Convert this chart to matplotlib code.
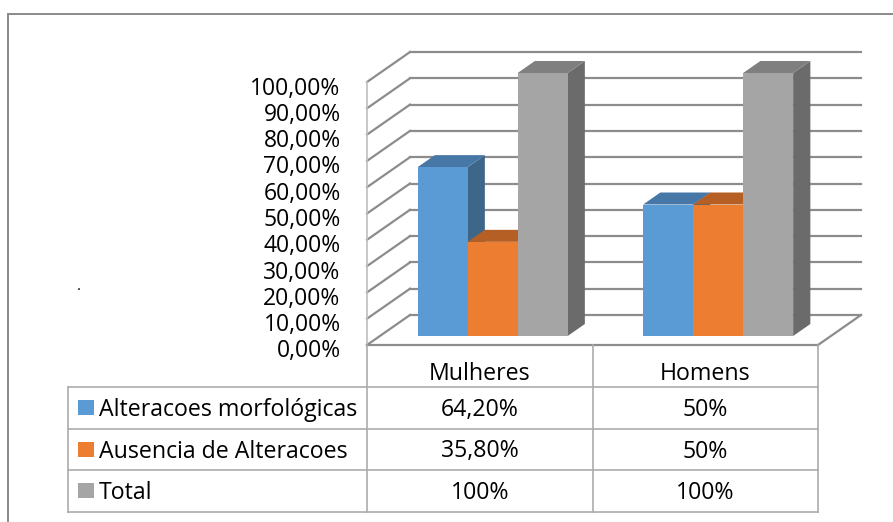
import numpy as np
import matplotlib
matplotlib.use("Agg")
import matplotlib.pyplot as plt
from matplotlib.patches import Polygon, Rectangle
from matplotlib.lines import Line2D
from matplotlib.transforms import ScaledTranslation

plt.rcParams['font.family'] = ['Open Sans', 'DejaVu Sans']

# ---- data ----
categories = ["Mulheres", "Homens"]
series_names = ["Alteracoes morfológicas", "Ausencia de Alteracoes", "Total"]
alteracoes = [0.642, 0.50]
ausencia = [0.358, 0.50]
total = [1.00, 1.00]
table_text = [["64,20%", "50%"], ["35,80%", "50%"], ["100%", "100%"]]
yticks = [0.0, 0.1, 0.2, 0.3, 0.4, 0.5, 0.6, 0.7, 0.8, 0.9, 1.0]

series = [alteracoes, ausencia, total]
front_col = ["#5B9BD5", "#ED7D31", "#A5A5A5"]
top_col = ["#4777A6", "#B65F24", "#7F7F7F"]
side_col = ["#3D6689", "#9A4F1D", "#6B6B6B"]

W, H = 893, 522
fig = plt.figure(figsize=(W / 100, H / 100), dpi=100)

def fx(x):
    return x / W

def fy(y):
    return 1 - y / H

# front plane axes (floor front edge 345 px, 100% at 82 px)
L, R, T, B = 367, 818, 82, 345
ax = fig.add_axes([fx(L), fy(B), (R - L) / W, (B - T) / H])
ax.set_xlim(-0.5, 1.5)
ax.set_ylim(0, 1)
for s in ax.spines.values():
    s.set_visible(False)
ax.set_xticks([])
ax.set_yticks(yticks)
ax.set_yticklabels([("%.2f%%" % (v * 100)).replace(".", ",") for v in yticks],
                   fontsize=16.5, color="#000000")
ax.tick_params(axis='y', length=0, pad=19)
ax.patch.set_alpha(0)
shift = ScaledTranslation(0, -3.5 / 100, fig.dpi_scale_trans)
for lab in ax.get_yticklabels():
    lab.set_transform(lab.get_transform() + shift)

# depth offset in data units
DXD = 43 / (R - L) * 2.0
DYD = 30 / (B - T) * 1.0

def P(x, y, d):
    return (x + DXD * d, y + DYD * d)

grid_c = "#8C8C8C"
glw = 1.6
x0, x1 = -0.5, 1.5
# back wall + left wall gridlines
for v in yticks:
    a = P(x0, v, 1); b = P(x1, v, 1)
    ax.add_line(Line2D([a[0], b[0]], [a[1], b[1]], color=grid_c, lw=glw, clip_on=False, zorder=1))
    a = P(x0, v, 0); b = P(x0, v, 1)
    ax.add_line(Line2D([a[0], b[0]], [a[1], b[1]], color=grid_c, lw=glw, clip_on=False, zorder=1))
# front-left axis edge
ax.add_line(Line2D([x0, x0], [0, 1], color="#BFBFBF", lw=1.2, clip_on=False, zorder=1))
# floor edges
a = P(x1, 0, 1); b = P(x1, 0, 0)
ax.add_line(Line2D([a[0], b[0]], [a[1], b[1]], color=grid_c, lw=glw, clip_on=False, zorder=1))
ax.add_line(Line2D([x0, x1], [0, 0], color=grid_c, lw=glw, clip_on=False, zorder=1))

# bars
bw = 50 / (R - L) * 2.0
d0, d1 = 0.3, 0.7
xc = np.arange(len(categories))
z = 3
for ci in range(len(categories)):
    for si in range(len(series)):
        v = series[si][ci]
        xl = xc[ci] + (si - 1) * bw - bw / 2
        xr = xl + bw
        side = [P(xr, 0, d0), P(xr, 0, d1), P(xr, v, d1), P(xr, v, d0)]
        top = [P(xl, v, d0), P(xr, v, d0), P(xr, v, d1), P(xl, v, d1)]
        front = [P(xl, 0, d0), P(xr, 0, d0), P(xr, v, d0), P(xl, v, d0)]
        ax.add_patch(Polygon(side, closed=True, facecolor=side_col[si], edgecolor='none', clip_on=False, zorder=z)); z += 1
        ax.add_patch(Polygon(top, closed=True, facecolor=top_col[si], edgecolor='none', clip_on=False, zorder=z)); z += 1
        ax.add_patch(Polygon(front, closed=True, facecolor=front_col[si], edgecolor='none', clip_on=False, zorder=z)); z += 1

# ---- data table ----
ov = fig.add_axes([0, 0, 1, 1])
ov.set_xlim(0, W)
ov.set_ylim(H, 0)
ov.axis('off')
ov.patch.set_alpha(0)

def data_to_px_x(xd):
    disp = ax.transData.transform((xd, 0))
    return disp[0] * W / fig.bbox.width

col_edges = [data_to_px_x(x0), data_to_px_x(0.5), data_to_px_x(x1)]
col_centers = [data_to_px_x(c) for c in xc]
tab_left = 68
row_edges = [345, 387, 429, 470, 512]
tc = "#ABABAB"
for yv in row_edges[1:]:
    ov.plot([tab_left, col_edges[-1]], [yv, yv], color=tc, lw=1.2)
ov.plot([tab_left, tab_left], [row_edges[1], row_edges[-1]], color=tc, lw=1.2)
for xv in col_edges:
    ov.plot([xv, xv], [row_edges[0], row_edges[-1]], color=tc, lw=1.2)

fs = 16.7
for ci, cat in enumerate(categories):
    ov.text(col_centers[ci], 380, cat, ha='center', va='baseline', fontsize=fs)
for ri in range(len(series_names)):
    yc = (row_edges[ri + 1] + row_edges[ri + 2]) / 2
    ov.add_patch(Rectangle((78, yc - 8), 16, 15, facecolor=front_col[ri], edgecolor='none'))
    ov.text(99, yc + 8, series_names[ri], ha='left', va='baseline', fontsize=fs)
    for ci in range(len(categories)):
        ov.text(col_centers[ci], yc + 8, table_text[ri][ci], ha='center', va='baseline', fontsize=fs)

# outer border and stray dot
ov.plot([8, W], [13.5, 13.5], color="#8A8A8A", lw=1.4)
ov.plot([8, 8], [13.5, H], color="#8A8A8A", lw=1.4)
ov.text(79, 287, ".", ha='center', va='center', fontsize=11)

fig.savefig("out.png", dpi=100)
